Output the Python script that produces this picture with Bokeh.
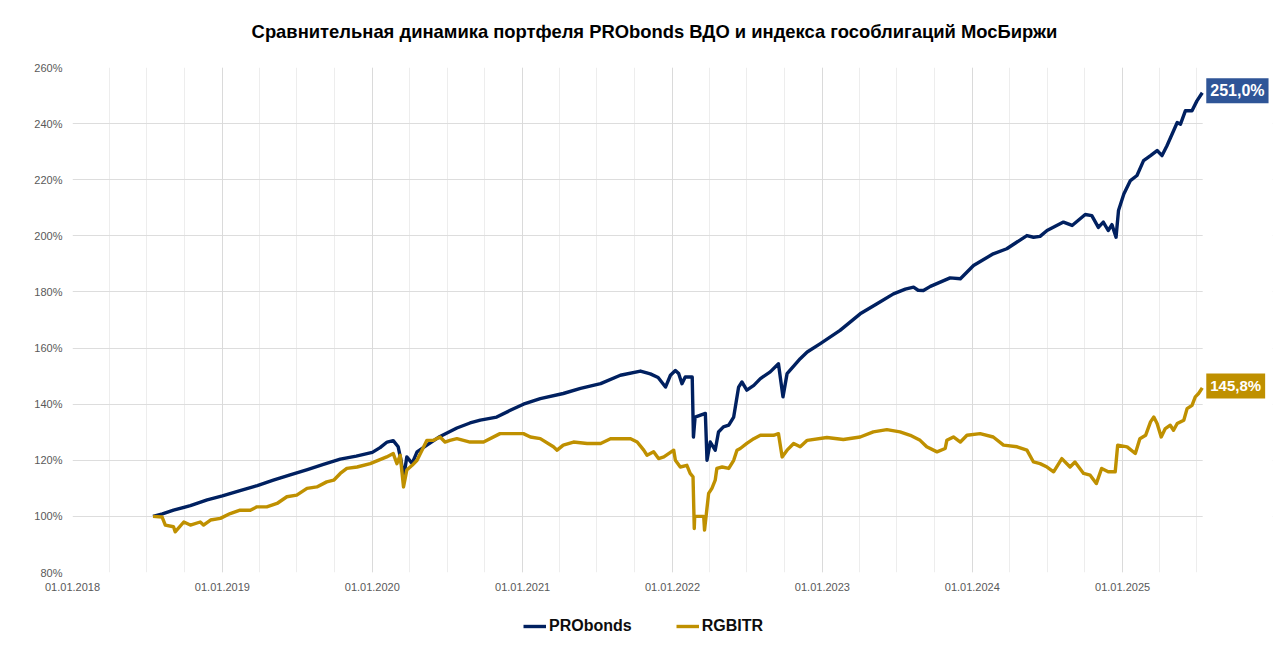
import pandas as pd
from bokeh.plotting import figure
from bokeh.layouts import column
from bokeh.models import (Range1d, FixedTicker, DatetimeTickFormatter, PrintfTickFormatter,
                          Grid, Label, Legend, LegendItem, BoxAnnotation)
from bokeh.embed import file_html
from bokeh.resources import INLINE

TITLE = "Сравнительная динамика портфеля PRObonds ВДО и индекса гособлигаций МосБиржи"
SERIES_NAMES = ["PRObonds", "RGBITR"]

probonds_dates = [
    "2018-07-16", "2018-08-08", "2018-09-04", "2018-10-15", "2018-11-25",
    "2019-01-01", "2019-02-13", "2019-03-27", "2019-05-05", "2019-06-15", "2019-07-27",
    "2019-09-04", "2019-10-15", "2019-11-23",
    "2020-01-01", "2020-01-20", "2020-02-06", "2020-02-21", "2020-03-04", "2020-03-11",
    "2020-03-17", "2020-03-25", "2020-04-07", "2020-04-19", "2020-05-13", "2020-06-14",
    "2020-07-25", "2020-08-26", "2020-09-20", "2020-10-30", "2020-12-02",
    "2021-01-03", "2021-02-13", "2021-04-10", "2021-05-22", "2021-07-10", "2021-08-27",
    "2021-10-15", "2021-11-08", "2021-11-27", "2021-12-15", "2021-12-27",
    "2022-01-08", "2022-01-16", "2022-01-24", "2022-02-01", "2022-02-18", "2022-02-21",
    "2022-02-25", "2022-03-22", "2022-03-26", "2022-04-03", "2022-04-15", "2022-04-23",
    "2022-05-05", "2022-05-18", "2022-05-30", "2022-06-11", "2022-06-19", "2022-07-01",
    "2022-07-18", "2022-08-03", "2022-08-27", "2022-09-16", "2022-09-27", "2022-10-07",
    "2022-11-08", "2022-11-25", "2022-12-27",
    "2023-02-13", "2023-04-03", "2023-05-14", "2023-06-23", "2023-07-22", "2023-08-11",
    "2023-08-22", "2023-09-04", "2023-09-21", "2023-10-15", "2023-11-08", "2023-12-03",
    "2024-01-04", "2024-02-21", "2024-03-25", "2024-05-13", "2024-05-29", "2024-06-14",
    "2024-07-01", "2024-08-10", "2024-08-31", "2024-10-02", "2024-10-18", "2024-11-03",
    "2024-11-15", "2024-11-27", "2024-12-06", "2024-12-16", "2024-12-22",
    "2025-01-04", "2025-01-20", "2025-02-05", "2025-02-21", "2025-03-10", "2025-03-26",
    "2025-04-07", "2025-04-19", "2025-05-14", "2025-05-22", "2025-06-03", "2025-06-19",
    "2025-07-01", "2025-07-14",
]
probonds_values = [
    100.0, 100.9, 102.2, 103.8, 105.9,
    107.3, 109.2, 111.0, 112.9, 114.8, 116.7,
    118.5, 120.4, 121.5,
    122.8, 124.5, 126.5, 127.0, 124.8, 120.0,
    113.5, 121.2, 118.9, 123.0, 125.4, 128.5,
    131.5, 133.3, 134.3, 135.4, 137.8,
    140.0, 142.0, 143.8, 145.6, 147.3, 150.3,
    151.8, 150.8, 149.5, 146.1, 150.3,
    152.0, 150.9, 147.3, 149.7, 149.7, 128.3,
    135.4, 136.7, 120.0, 126.5, 123.6, 130.1,
    131.9, 132.5, 135.4, 146.1, 147.9, 145.0,
    146.7, 149.1, 151.5, 154.4, 142.6, 150.9,
    156.2, 158.6, 161.6,
    166.3, 172.2, 175.8, 179.3, 181.0, 181.7,
    180.6, 180.5, 182.0, 183.5, 185.0, 184.7,
    189.4, 193.6, 195.4, 200.1, 199.5, 199.8,
    201.9, 204.9, 203.7, 207.6, 207.2, 203.0,
    204.9, 201.9, 204.0, 199.5, 209.0,
    214.9, 219.7, 221.5, 226.8, 228.6, 230.4,
    228.6, 232.1, 240.4, 239.8, 244.6, 244.6,
    248.1, 251.0,
]

rgbitr_dates = [
    "2018-07-16", "2018-08-07", "2018-08-15", "2018-09-04", "2018-09-08", "2018-09-29",
    "2018-10-15", "2018-11-08", "2018-11-16", "2018-12-03", "2018-12-27",
    "2019-01-20", "2019-02-13", "2019-03-10", "2019-03-26", "2019-04-19", "2019-05-14",
    "2019-06-07", "2019-07-01", "2019-07-26", "2019-08-19", "2019-09-12", "2019-09-29",
    "2019-10-15", "2019-10-31", "2019-11-25", "2019-12-27",
    "2020-02-05", "2020-02-21", "2020-03-01", "2020-03-09", "2020-03-17", "2020-03-25",
    "2020-04-07", "2020-04-19", "2020-05-13", "2020-05-29", "2020-06-14", "2020-06-26",
    "2020-07-08", "2020-07-25", "2020-08-26", "2020-09-28", "2020-11-07",
    "2021-01-03", "2021-01-20", "2021-02-13", "2021-03-17", "2021-03-26", "2021-04-10",
    "2021-05-05", "2021-06-07", "2021-07-10", "2021-08-03", "2021-09-21", "2021-10-07",
    "2021-10-23", "2021-10-31", "2021-11-16", "2021-11-28", "2021-12-11",
    "2022-01-04", "2022-01-08", "2022-01-20", "2022-02-05", "2022-02-13", "2022-02-20",
    "2022-02-23", "2022-02-24", "2022-03-18", "2022-03-20", "2022-03-30", "2022-04-07",
    "2022-04-15", "2022-04-19", "2022-05-02", "2022-05-18", "2022-05-30", "2022-06-07",
    "2022-06-15", "2022-07-01", "2022-07-18", "2022-08-03", "2022-09-04", "2022-09-16",
    "2022-09-25", "2022-10-07", "2022-10-23", "2022-11-08", "2022-11-25",
    "2023-01-12", "2023-02-21", "2023-04-03", "2023-05-05", "2023-06-07", "2023-07-09",
    "2023-08-03", "2023-08-27", "2023-09-12", "2023-10-07", "2023-10-27", "2023-10-31",
    "2023-11-16", "2023-12-03", "2023-12-19",
    "2024-01-20", "2024-02-21", "2024-03-17", "2024-04-19", "2024-05-13", "2024-05-29",
    "2024-06-14", "2024-07-01", "2024-07-17", "2024-08-06", "2024-08-26", "2024-09-07",
    "2024-09-28", "2024-10-14", "2024-10-29", "2024-11-11", "2024-11-27", "2024-12-14",
    "2024-12-20",
    "2025-01-12", "2025-02-01", "2025-02-12", "2025-02-26", "2025-03-10", "2025-03-18",
    "2025-03-26", "2025-04-05", "2025-04-15", "2025-04-27", "2025-05-05", "2025-05-14",
    "2025-05-30", "2025-06-07", "2025-06-19", "2025-06-27", "2025-07-05", "2025-07-14",
]
rgbitr_values = [
    100.0, 99.8, 96.9, 96.3, 94.5, 98.0,
    96.9, 98.0, 96.9, 98.7, 99.3,
    101.0, 102.2, 102.2, 103.4, 103.4, 104.6,
    107.0, 107.6, 110.0, 110.5, 112.3, 112.9,
    115.3, 117.1, 117.6, 118.8,
    121.2, 122.4, 118.8, 121.8, 110.5, 116.5,
    118.2, 120.0, 127.1, 127.1, 128.3, 126.5,
    127.1, 127.7, 126.5, 126.5, 129.5,
    129.5, 128.3, 127.7, 124.8, 123.6, 125.4,
    126.5, 126.0, 126.0, 127.7, 127.7, 126.5,
    123.6, 121.8, 123.0, 120.6, 121.2,
    123.6, 120.0, 117.6, 118.2, 115.3, 114.1,
    95.7, 100.0, 100.0, 95.1, 108.2, 110.0,
    112.9, 117.1, 117.6, 117.1, 120.0, 123.6,
    124.2, 126.0, 127.7, 128.9, 128.9, 129.5,
    121.2, 123.6, 126.0, 124.8, 127.1,
    128.1, 127.4, 128.3, 130.1, 130.9, 130.1,
    128.9, 127.1, 124.8, 123.0, 124.2, 127.1,
    128.3, 126.5, 128.9,
    129.5, 128.3, 125.4, 124.8, 123.6, 119.4,
    118.8, 117.6, 115.9, 120.6, 117.6, 119.4,
    115.3, 114.7, 111.7, 117.1, 115.9, 115.9,
    125.4,
    124.8, 122.4, 127.7, 128.9, 133.7, 135.4,
    133.1, 128.3, 131.3, 132.5, 130.7, 133.1,
    134.3, 138.4, 139.6, 142.6, 143.8, 145.8,
]

y_ticks = [80, 100, 120, 140, 160, 180, 200, 220, 240, 260]
year_ticks = ["2018-01-01", "2019-01-01", "2020-01-01", "2021-01-01",
              "2022-01-01", "2023-01-01", "2024-01-01", "2025-01-01"]
last_grid_quarter = "2025-07-01"
axis_end = "2025-07-15"      # right edge of the drawn chart area
x_start, x_view_end = "2018-01-01", "2026-01-01"   # extra room on the right for end labels

COL_PRO = "#002060"
COL_RGB = "#BF9000"
COL_PRO_BOX = "#2F5597"
FONT = "Liberation Sans"
LINE_W = 3.4
W = 1280
H_TITLE, H_MAIN, H_LEG = 50, 550, 58


def ms(d):
    return pd.Timestamp(d).value // 10**6


def blank_fig(h):
    # strip figures; their frames are aligned with the main chart frame by the column layout
    f = figure(width=W, height=h, x_range=(0, 1), y_range=(0, 1),
               x_axis_location=None, y_axis_location=None, title_location=None,
               output_backend="svg", toolbar_location=None,
               min_border_left=72, min_border_right=8, min_border_top=0, min_border_bottom=0)
    f.grid.visible = False
    f.outline_line_color = None
    f.background_fill_color = "white"
    f.border_fill_color = "white"
    return f


# ---------- title strip ----------
p_title = blank_fig(H_TITLE)
p_title.add_layout(Label(x=582, y=H_TITLE - 31, x_units="screen", y_units="screen", text=TITLE,
                         text_align="center", text_baseline="middle", text_font=FONT,
                         text_font_style="bold", text_font_size="18.4px", text_color="#000000"))

# ---------- main chart ----------
quarter_ticks = [ms(d) for d in pd.date_range(x_start, last_grid_quarter, freq="QS")]

p = figure(width=W, height=H_MAIN, x_axis_type="datetime", title_location=None,
           x_range=Range1d(pd.Timestamp(x_start), pd.Timestamp(x_view_end)),
           y_range=Range1d(y_ticks[0], y_ticks[-1]),
           output_backend="svg", toolbar_location=None,
           min_border_left=72, min_border_right=8, min_border_top=17, min_border_bottom=28)
p.outline_line_color = None
p.background_fill_color = "white"
p.border_fill_color = "white"

p.xaxis.ticker = FixedTicker(ticks=[ms(d) for d in year_ticks])
fmt = "%d.%m.%Y"
p.xaxis.formatter = DatetimeTickFormatter(days=fmt, months=fmt, years=fmt, hours=fmt,
                                          hourmin=fmt, minutes=fmt, minsec=fmt, seconds=fmt,
                                          milliseconds=fmt, microseconds=fmt)
p.yaxis.ticker = FixedTicker(ticks=y_ticks)
p.yaxis.formatter = PrintfTickFormatter(format="%d%%")
for ax in (p.xaxis[0], p.yaxis[0]):
    ax.axis_line_color = None
    ax.major_tick_line_color = None
    ax.minor_tick_line_color = None
    ax.major_tick_out = 0
    ax.major_tick_in = 0
    ax.major_label_standoff = 10
    ax.major_label_text_font = FONT
    ax.major_label_text_font_size = "11px"
    ax.major_label_text_color = "#595959"

p.xgrid.ticker = FixedTicker(ticks=quarter_ticks)
p.xgrid.grid_line_color = "#EDEDED"
p.ygrid.ticker = FixedTicker(ticks=y_ticks)
p.ygrid.grid_line_color = "#DDDDDD"
p.add_layout(Grid(dimension=0, ticker=FixedTicker(ticks=[ms(d) for d in year_ticks]),
                  grid_line_color="#DADADA"))

# blank margin to the right of the chart area (grid stops there, end labels live there)
p.add_layout(BoxAnnotation(left=ms(axis_end), fill_color="white", fill_alpha=1.0,
                           line_color=None, level="underlay"))

pro_x = pd.to_datetime(probonds_dates)
rgb_x = pd.to_datetime(rgbitr_dates)
p.line(pro_x, probonds_values, line_width=LINE_W, line_color=COL_PRO, line_join="round")
p.line(rgb_x, rgbitr_values, line_width=LINE_W, line_color=COL_RGB, line_join="round")


def fmt_pct(v):
    return f"{v:.1f}%".replace(".", ",")


for xs, vals, col, fs in ((pro_x, probonds_values, COL_PRO_BOX, "16px"),
                          (rgb_x, rgbitr_values, COL_RGB, "15px")):
    p.add_layout(Label(x=xs[-1], y=vals[-1], text=fmt_pct(vals[-1]), x_offset=4, y_offset=2,
                       text_baseline="middle", text_align="left",
                       text_font=FONT, text_font_style="bold", text_font_size=fs,
                       text_color="white", background_fill_color=col, padding=4))

# ---------- legend strip ----------
# the same series are given to this strip only to draw legend swatches (out of its view)
p_leg = blank_fig(H_LEG)
l_pro = p_leg.line(pro_x, probonds_values, line_width=LINE_W, line_color=COL_PRO)
l_rgb = p_leg.line(rgb_x, rgbitr_values, line_width=LINE_W, line_color=COL_RGB)
legend = Legend(items=[LegendItem(label=SERIES_NAMES[0], renderers=[l_pro]),
                       LegendItem(label=SERIES_NAMES[1], renderers=[l_rgb])],
                orientation="horizontal", location=(451, 22),
                glyph_width=23, glyph_height=20, label_height=20, label_standoff=3, spacing=44,
                label_text_font=FONT, label_text_font_style="bold",
                label_text_font_size="16px", label_text_color="#0D0D0D",
                padding=5, margin=0, border_line_color=None, background_fill_alpha=0)
p_leg.add_layout(legend)

layout = column(p_title, p, p_leg, spacing=0)
open("out.html", "w").write(file_html(layout, INLINE))
